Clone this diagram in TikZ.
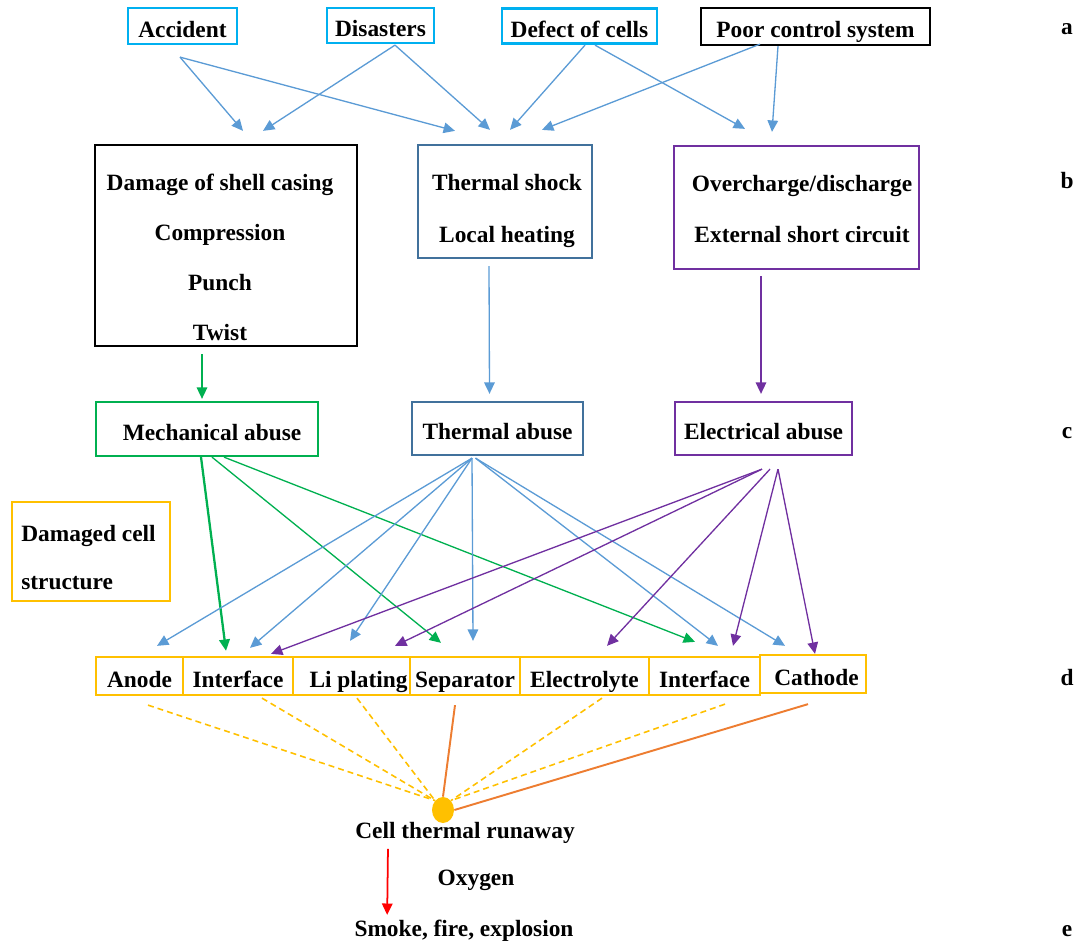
\documentclass[tikz,border=0pt]{standalone}
\usepackage{fontspec}
\setmainfont{Liberation Serif}
\usepackage{tikz}
\usetikzlibrary{arrows.meta,calc,shapes.geometric}
\definecolor{skyline}{HTML}{00B0F0}
\definecolor{steel}{HTML}{41719C}
\definecolor{plum}{HTML}{7030A0}
\definecolor{leaf}{HTML}{00B050}
\definecolor{amber}{HTML}{FFC000}
\definecolor{pale}{HTML}{5B9BD5}
\definecolor{rust}{HTML}{ED7D31}
\tikzset{frame/.style={draw,line width=1.3pt,inner sep=0pt,text height=13pt,text depth=0pt,font=\bfseries\fontsize{13.3}{16}\selectfont},
txt/.style={inner sep=0pt,align=center,font=\bfseries\fontsize{13.3}{28.4}\selectfont},
link/.style={line width=.75pt,-{Triangle[length=6.5pt,width=6pt]}},
dashlink/.style={amber,line width=.9pt,dash pattern=on 3.4pt off 2.3pt},
hotlink/.style={rust,line width=1.1pt}}

\begin{document}
\begin{tikzpicture}[x=0.02cm,y=-0.02cm]
\useasboundingbox (0,0) rectangle (1081,945);
% row a
\node[frame,draw=skyline,minimum width=2.18cm,minimum height=.72cm] (acc) at (182.5,26) {Accident};
\node[frame,draw=skyline,minimum width=2.14cm,minimum height=.70cm] (dis) at (380.5,25.5) {Disasters};
\node[frame,draw=skyline,minimum width=3.10cm,minimum height=.70cm] (dfc) at (579.5,26) {Defect of cells};
\node[frame,draw=black,minimum width=4.58cm,minimum height=.74cm] (pcs) at (815.5,26.5) {Poor control system};
% row b
\node[frame,draw=black,minimum width=5.24cm,minimum height=4.02cm] (dmg) at (226,245.5) {};
\node[txt] (dmgt) at (220,257.5) {Damage of shell casing\\Compression\\Punch\\Twist};
\node[frame,draw=steel,minimum width=3.48cm,minimum height=2.26cm] (ths) at (505,201.5) {};
\node[txt,font=\bfseries\fontsize{13.3}{29.5}\selectfont] (thst) at (507,211) {Thermal shock\\Local heating};
\node[frame,draw=plum,minimum width=4.90cm,minimum height=2.46cm] (ovc) at (796.5,207.5) {};
\node[txt,font=\bfseries\fontsize{13.3}{29.5}\selectfont] (ovct) at (802,209) {Overcharge/discharge\\External short circuit};
% row c
\node[frame,draw=leaf,minimum width=4.44cm,minimum height=1.08cm] (mech) at (207,429) {\hspace{5.7pt}Mechanical abuse};
\node[frame,draw=steel,minimum width=3.42cm,minimum height=1.06cm] (thab) at (497.5,428.5) {Thermal abuse};
\node[frame,draw=plum,minimum width=3.54cm,minimum height=1.06cm] (elab) at (763.5,428.5) {Electrical abuse};
\node[frame,draw=amber,minimum width=3.16cm,minimum height=1.98cm] (dcs) at (91,551.5) {};
\node[txt,align=left,anchor=west,font=\bfseries\fontsize{13.3}{27.8}\selectfont] (dcst) at (21,557.5) {Damaged cell\\structure};
% row d
\node[frame,draw=amber,minimum width=1.74cm,minimum height=.76cm] (anode) at (139.5,676) {Anode};
\node[frame,draw=amber,minimum width=2.20cm,minimum height=.76cm] (i1) at (238,676) {Interface};
\node[frame,draw=amber,minimum width=2.34cm,minimum height=.76cm] (lip) at (351.5,676) {\hspace{8pt}Li plating};
\node[frame,draw=amber,minimum width=2.20cm,minimum height=.76cm] (sep) at (465,676) {Separator};
\node[frame,draw=amber,minimum width=2.58cm,minimum height=.76cm] (ely) at (584.5,676) {Electrolyte};
\node[frame,draw=amber,minimum width=2.22cm,minimum height=.76cm] (i2) at (704.5,676) {Interface};
\node[frame,draw=amber,minimum width=2.12cm,minimum height=.76cm] (cat) at (813,674) {\hspace{4pt}Cathode};
% row e
\node[ellipse,fill=amber,minimum width=.44cm,minimum height=.52cm,inner sep=0pt] (hub) at (443,810) {};
\node[txt] (run) at (465,832.5) {Cell thermal runaway};
\node[txt] (oxy) at (476,880.5) {Oxygen};
\node[txt] (smk) at (464,930.5) {Smoke, fire, explosion};
% side letters
\node[txt] (la) at (1067,29.5) {a};
\node[txt] (lb) at (1067,181) {b};
\node[txt] (lc) at (1067,433) {c};
\node[txt] (ld) at (1067,678) {d};
\node[txt] (le) at (1067,931) {e};
% a -> b
\draw[link,pale] ($(acc.south)+(-2.5,12)$) -- ($(dmg.north)+(17,-13)$);
\draw[link,pale] ($(acc.south)+(-2.5,12)$) -- ($(ths.north)+(-50,-13)$);
\draw[link,pale] ($(dis.south)+(14.5,1)$) -- ($(dmg.north)+(37,-13)$);
\draw[link,pale] ($(dis.south)+(14.5,1)$) -- ($(ths.north)+(-15,-14)$);
\draw[link,pale] ($(dfc.south)+(5.5,.5)$) -- ($(ths.north)+(5,-14)$);
\draw[link,pale] ($(dfc.south)+(15.5,.5)$) -- ($(ovc.north)+(-51.5,-16)$);
\draw[link,pale] ($(pcs.south)+(-55.5,-2)$) -- ($(ths.north)+(37,-14)$);
\draw[link,pale] ($(pcs.south)+(-37.5,0)$) -- ($(ovc.north)+(-24.5,-13)$);
% b -> c
\draw[link,leaf] ($(dmg.south)+(-24,7)$) -- ($(mech.north)+(-5,-2)$);
\draw[link,pale] ($(ths.south)+(-16,7)$) -- ($(thab.north)+(-8,-7)$);
\draw[link,plum] ($(ovc.south)+(-35.5,6)$) -- ($(elab.north)+(-2.5,-7)$);
% c -> d
\draw[link,leaf,line width=1.3pt] ($(mech.south)+(-6,0)$) -- ($(i1.north)+(-12,-5)$);
\draw[link,leaf] ($(mech.south)+(5,0)$) -- ($(sep.north)+(-24,-13)$);
\draw[link,leaf] ($(mech.south)+(17,0)$) -- ($(i2.north)+(-9.5,-14)$);
\draw[link,pale] ($(thab.south)+(-25.5,2)$) -- ($(anode.north)+(17.5,-10)$);
\draw[link,pale] ($(thab.south)+(-25.5,2)$) -- ($(i1.north)+(12,-8)$);
\draw[link,pale] ($(thab.south)+(-25.5,2)$) -- ($(lip.north)+(-1.5,-15)$);
\draw[link,pale] ($(thab.south)+(-25.5,2)$) -- ($(sep.north)+(8,-15)$);
\draw[link,pale] ($(thab.south)+(-22,2)$) -- ($(i2.north)+(13.5,-10)$);
\draw[link,pale] ($(thab.south)+(-22,2)$) -- ($(cat.north)+(-28,-8)$);
\draw[link,plum] ($(elab.south)+(-1.5,13)$) -- ($(i1.north)+(33,-2)$);
\draw[link,plum] ($(elab.south)+(-1.5,13)$) -- ($(lip.north)+(43.5,-10)$);
\draw[link,plum] ($(elab.south)+(6.5,13)$) -- ($(ely.north)+(22.5,-10)$);
\draw[link,plum] ($(elab.south)+(14.5,13)$) -- ($(i2.north)+(28.5,-10)$);
\draw[link,plum] ($(elab.south)+(14.5,13)$) -- ($(cat.north)+(2,0)$);
% d -> e
\draw[dashlink] ($(anode.south)+(8.5,9)$) -- (hub.north west);
\draw[dashlink] ($(i1.south)+(24,2)$) -- (hub.north west);
\draw[dashlink] ($(lip.south)+(5.5,2)$) -- (hub.north west);
\draw[dashlink] ($(ely.south)+(17.5,2)$) -- (hub.north east);
\draw[dashlink] ($(i2.south)+(20.5,8)$) -- (hub.north east);
\draw[hotlink] ($(sep.south)+(-10,9)$) -- (hub.north);
\draw[hotlink] ($(cat.south)+(-5,10)$) -- (hub.east);
\draw[link,red,line width=1pt] ($(run.south west)+(33,5.5)$) -- ($(smk.north west)+(33,-4.5)$);
\end{tikzpicture}
\end{document}
